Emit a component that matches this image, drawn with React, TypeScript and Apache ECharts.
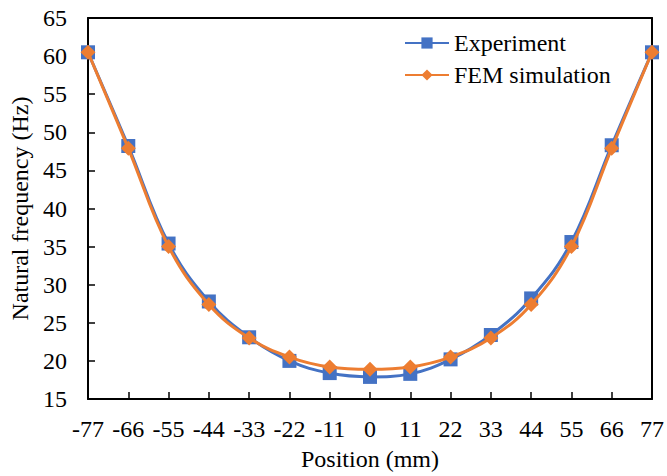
import React, { useEffect, useRef } from "react";
import * as echarts from "echarts";

const positions = [-77, -66, -55, -44, -33, -22, -11, 0, 11, 22, 33, 44, 55, 66, 77];
const experiment = [60.5, 48.2, 35.4, 27.8, 23.1, 20.0, 18.4, 17.9, 18.3, 20.2, 23.4, 28.2, 35.6, 48.3, 60.5];
const femSimulation = [60.5, 47.9, 35.0, 27.4, 23.0, 20.5, 19.2, 18.9, 19.2, 20.5, 23.0, 27.4, 35.0, 47.9, 60.5];

const FONT = "'Liberation Serif', 'DejaVu Serif', serif";
const TXT = { fontFamily: FONT, fontSize: 24, color: "#000" };

export default function App() {
  const ref = useRef<HTMLDivElement>(null);
  useEffect(() => {
    if (!ref.current) return;
    const chart = echarts.init(ref.current, undefined, { renderer: "svg" });
    const mk = (arr: number[]) => positions.map((x, i) => [x, arr[i]]);
    const line = { onZero: false, show: true, lineStyle: { color: "#000", width: 2 } };
    chart.setOption({
      animation: false,
      backgroundColor: "#fff",
      textStyle: { fontFamily: FONT },
      grid: { left: 86, right: 13, top: 18, bottom: 73, containLabel: false },
      legend: {
        orient: "vertical",
        left: 404,
        top: 31,
        padding: 0,
        itemWidth: 44,
        itemHeight: 14,
        itemGap: 8,
        textStyle: TXT,
        data: ["Experiment", "FEM simulation"],
      },
      xAxis: [
        {
          type: "value",
          min: -77,
          max: 77,
          interval: 11,
          name: "Position (mm)",
          nameLocation: "middle",
          nameGap: 48,
          nameTextStyle: TXT,
          axisLine: line,
          axisTick: { inside: true, length: 7, lineStyle: { color: "#000", width: 1.5 } },
          axisLabel: { ...TXT, margin: 18 },
          splitLine: { show: false },
        },
        {
          type: "value",
          min: -77,
          max: 77,
          position: "top",
          axisLine: line,
          axisTick: { show: false },
          axisLabel: { show: false },
          splitLine: { show: false },
        },
      ],
      yAxis: [
        {
          type: "value",
          min: 15,
          max: 65,
          interval: 5,
          name: "Natural frequency (Hz)",
          nameLocation: "middle",
          nameGap: 56,
          nameRotate: 90,
          nameTextStyle: TXT,
          axisLine: line,
          axisTick: { show: true, inside: true, length: 7, lineStyle: { color: "#000", width: 1.5 } },
          axisLabel: { ...TXT, margin: 21 },
          splitLine: { show: false },
        },
        {
          type: "value",
          min: 15,
          max: 65,
          position: "right",
          axisLine: line,
          axisTick: { show: false },
          axisLabel: { show: false },
          splitLine: { show: false },
        },
      ],
      series: [
        {
          name: "Experiment",
          type: "line",
          data: mk(experiment),
          smooth: 0.4,
          symbol: "rect",
          symbolSize: 14,
          itemStyle: { color: "#4472C4" },
          lineStyle: { color: "#4472C4", width: 3 },
          z: 2,
        },
        {
          name: "FEM simulation",
          type: "line",
          data: mk(femSimulation),
          smooth: 0.4,
          symbol: "diamond",
          symbolSize: 15,
          itemStyle: { color: "#ED7D31" },
          lineStyle: { color: "#ED7D31", width: 3 },
          z: 3,
        },
      ],
    });
    return () => chart.dispose();
  }, []);
  return (
    <div
      ref={ref}
      style={{ position: "fixed", left: 0, top: 0, width: 667, height: 476 }}
    />
  );
}
